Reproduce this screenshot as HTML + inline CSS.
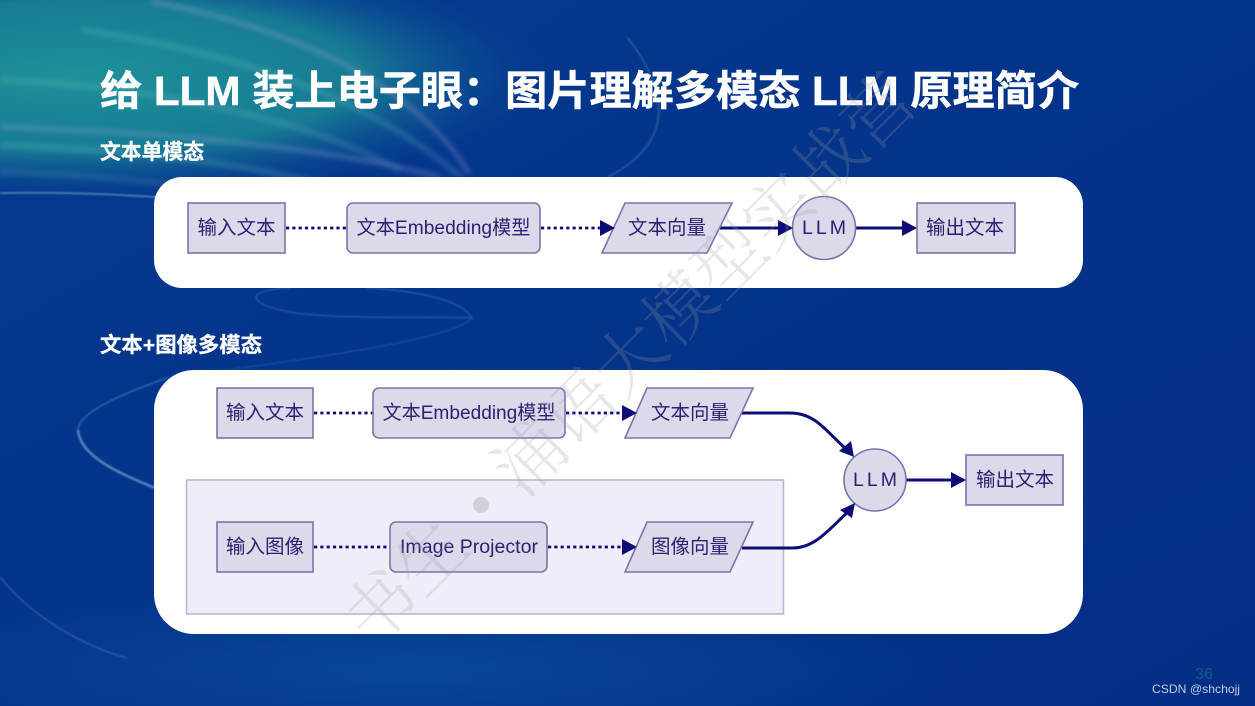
<!DOCTYPE html>
<html lang="zh">
<head>
<meta charset="utf-8">
<title>图片理解多模态 LLM 原理简介</title>
<style>
html,body{margin:0;padding:0;width:1255px;height:706px;overflow:hidden;background:#032f87}
svg{display:block}
.n{font-family:"Liberation Sans","Noto Sans CJK SC",sans-serif;font-size:19.5px;fill:#2a2370;text-anchor:middle;dominant-baseline:central}
.b{fill:#dcd9eb;stroke:#7a74ab;stroke-width:1.6}
.h{font-family:"Liberation Sans","Noto Sans CJK SC",sans-serif;font-weight:700;fill:#fff;stroke:#fff}
.d{stroke:#0a0a78;stroke-width:2.8;stroke-dasharray:3.2 3.1;fill:none}
.s{stroke:#0a0a78;stroke-width:3;fill:none}
.a{fill:#0a0a78}
.w{font-family:"Noto Serif CJK SC","Liberation Serif",serif;font-weight:300;font-size:70px;fill:#999;fill-opacity:.24;text-anchor:middle;dominant-baseline:central}
</style>
</head>
<body>
<svg width="1255" height="706" viewBox="0 0 1255 706" xmlns="http://www.w3.org/2000/svg">
<defs>
<linearGradient id="bg" x1="0" y1="0" x2="1" y2="1">
<stop offset="0" stop-color="#053a90"/><stop offset=".5" stop-color="#04338a"/><stop offset="1" stop-color="#032e86"/>
</linearGradient>
<radialGradient id="teal" gradientUnits="userSpaceOnUse" cx="80" cy="75" r="1" gradientTransform="translate(80 75) scale(470 125) translate(-80 -75)">
<stop offset="0" stop-color="#1d9198"/><stop offset=".6" stop-color="#1a8496" stop-opacity=".88"/><stop offset="1" stop-color="#0a4f96" stop-opacity="0"/>
</radialGradient>
<radialGradient id="low" gradientUnits="userSpaceOnUse" cx="420" cy="670" r="1" gradientTransform="translate(420 670) scale(560 90) translate(-420 -670)">
<stop offset="0" stop-color="#0b55a8" stop-opacity=".6"/><stop offset="1" stop-color="#0b55a8" stop-opacity="0"/>
</radialGradient>
<filter id="bl" x="-20%" y="-20%" width="140%" height="140%"><feGaussianBlur stdDeviation="2.6"/></filter>
<filter id="bl2" x="-20%" y="-20%" width="140%" height="140%"><feGaussianBlur stdDeviation=".7"/></filter>
<filter id="bl3"><feGaussianBlur stdDeviation=".35"/></filter>
</defs>

<rect width="1255" height="706" fill="url(#bg)"/>
<rect width="620" height="260" fill="url(#teal)"/>
<rect y="560" width="1255" height="146" fill="url(#low)"/>

<g fill="none" filter="url(#bl)">
<path d="M151 2C230 15 400 60 469 173" stroke="#a9a8d4" stroke-opacity=".42" stroke-width="3.500"/>
<path d="M82 30C220 50 360 90 461 177" stroke="#7fd0c8" stroke-opacity=".24" stroke-width="5"/>
<path d="M0 80C120 85 290 110 400 170" stroke="#8ed7cd" stroke-opacity=".18" stroke-width="6"/>
<path d="M0 127C100 130 300 140 440 177" stroke="#a7a8d8" stroke-opacity=".45" stroke-width="3"/>
<path d="M0 145C120 150 260 160 400 205" stroke="#7cd0c8" stroke-opacity=".25" stroke-width="5"/>
<path d="M0 172C120 175 230 190 330 210" stroke="#9fd8d8" stroke-opacity=".18" stroke-width="4"/>
</g>
<g fill="none" filter="url(#bl2)">
<path d="M0 193C60 192 110 194 156 197" stroke="#6ab4cc" stroke-opacity=".6" stroke-width="1.800"/>
<path d="M627 37C665 85 680 140 608 177" stroke="#6fa7c4" stroke-opacity=".4" stroke-width="1.300"/>
<path d="M290 288C240 290 250 305 290 312C340 320 430 316 472 318C460 296 400 290 367 288" stroke="#4d90c8" stroke-opacity=".42" stroke-width="1.300"/>
<path d="M472 318C455 340 300 360 167 378" stroke="#4d90c8" stroke-opacity=".3" stroke-width="1.200"/>
<path d="M167 378C110 398 78 415 78 430" stroke="#4d90c8" stroke-opacity=".55" stroke-width="1.500"/>
<path d="M78 430C80 455 115 472 155 488" stroke="#8bb3da" stroke-opacity=".6" stroke-width="2.600"/>
<path d="M0 577C30 615 80 645 127 658" stroke="#8daed6" stroke-opacity=".3" stroke-width="1.400"/>
</g>

<text class="h" x="100" y="105" font-size="41" stroke-width=".5" textLength="979" lengthAdjust="spacingAndGlyphs">给 LLM 装上电子眼：图片理解多模态 LLM 原理简介</text>
<text class="h" x="100" y="159" font-size="21" stroke-width=".3" textLength="104" lengthAdjust="spacingAndGlyphs">文本单模态</text>
<text class="h" x="100" y="352" font-size="21" stroke-width=".3" textLength="162" lengthAdjust="spacingAndGlyphs">文本+图像多模态</text>

<rect x="154" y="177" width="929" height="111" rx="28" fill="#fff"/>
<rect x="154" y="370" width="929" height="264" rx="40" fill="#fff"/>

<g filter="url(#bl3)">
<!-- diagram 1 -->
<path class="d" d="M286 228H347"/>
<path class="d" d="M541 228H600"/>
<path class="s" d="M720 228H780"/>
<path class="s" d="M856 228H903"/>
<rect class="b" x="188" y="203" width="97" height="50"/>
<rect class="b" x="347" y="203" width="193" height="50" rx="6"/>
<path class="b" d="M625 203H732L707 253H602Z"/>
<circle class="b" cx="824" cy="228" r="31.500"/>
<rect class="b" x="917" y="203" width="98" height="50"/>
<path class="a" d="M600 220L615 228L600 236Z"/>
<path class="a" d="M778 220L793 228L778 236Z"/>
<path class="a" d="M902 220L917 228L902 236Z"/>
<text class="n" x="236.500" y="228" textLength="78" lengthAdjust="spacingAndGlyphs">输入文本</text>
<text class="n" x="443.500" y="228" textLength="174" lengthAdjust="spacingAndGlyphs">文本Embedding模型</text>
<text class="n" x="667" y="228" textLength="78" lengthAdjust="spacingAndGlyphs">文本向量</text>
<text class="n" x="824" y="228" font-size="18" textLength="44" lengthAdjust="spacing">LLM</text>
<text class="n" x="965" y="228" textLength="78" lengthAdjust="spacingAndGlyphs">输出文本</text>

<!-- diagram 2 -->
<rect x="186.500" y="480" width="597" height="134" fill="#efedf8" stroke="#b9b5d6" stroke-width="1.600"/>
<path class="d" d="M314 413H373"/>
<path class="d" d="M566 413H622"/>
<path class="d" d="M314 547H390"/>
<path class="d" d="M548 547H623"/>
<path class="s" d="M741 413H790C815 413 825 430 846 449"/>
<path class="s" d="M742 548H793C815 548 828 530 848 512"/>
<path class="s" d="M906 480H953"/>
<rect class="b" x="217" y="388" width="96" height="50"/>
<rect class="b" x="373" y="388" width="192" height="50" rx="6"/>
<path class="b" d="M647 388H753L730 438H625Z"/>
<rect class="b" x="217" y="522" width="96" height="50"/>
<rect class="b" x="390" y="522" width="157" height="50" rx="6"/>
<path class="b" d="M647 522H753L730 572H625Z"/>
<circle class="b" cx="875" cy="480" r="31"/>
<rect class="b" x="966" y="455" width="97" height="50"/>
<path class="a" d="M622 405L637 413L622 421Z"/>
<path class="a" d="M622 539L637 547L622 555Z"/>
<path class="a" d="M951 472L966 480L951 488Z"/>
<path class="a" d="M854 457L839 451L851 441Z"/>
<path class="a" d="M855 503L840 510L852 518Z"/>
<text class="n" x="265" y="413" textLength="78" lengthAdjust="spacingAndGlyphs">输入文本</text>
<text class="n" x="469" y="413" textLength="173" lengthAdjust="spacingAndGlyphs">文本Embedding模型</text>
<text class="n" x="690" y="413" textLength="78" lengthAdjust="spacingAndGlyphs">文本向量</text>
<text class="n" x="265" y="547" textLength="78" lengthAdjust="spacingAndGlyphs">输入图像</text>
<text class="n" x="469" y="547" textLength="138" lengthAdjust="spacingAndGlyphs">Image Projector</text>
<text class="n" x="690" y="547" textLength="78" lengthAdjust="spacingAndGlyphs">图像向量</text>
<text class="n" x="875" y="480" font-size="18" textLength="44" lengthAdjust="spacing">LLM</text>
<text class="n" x="1015" y="480" textLength="78" lengthAdjust="spacingAndGlyphs">输出文本</text>
</g>

<!-- watermark -->
<text class="w" transform="translate(377 603) rotate(-45)">书</text>
<text class="w" transform="translate(427 553) rotate(-45)">生</text>
<circle cx="481" cy="505" r="8" fill="#999" fill-opacity=".35"/>
<text class="w" transform="translate(527 454) rotate(-45)">浦</text>
<text class="w" transform="translate(576 405) rotate(-45)">语</text>
<text class="w" transform="translate(626 355) rotate(-45)">大</text>
<text class="w" transform="translate(676 306) rotate(-45)">模</text>
<text class="w" transform="translate(726 256) rotate(-45)">型</text>
<text class="w" transform="translate(775 207) rotate(-45)">实</text>
<text class="w" transform="translate(825 157) rotate(-45)">战</text>
<text class="w" transform="translate(875 108) rotate(-45)">营</text>

<text x="1204" y="679" font-family="Liberation Sans, sans-serif" font-size="16" fill="#0a5f8a" text-anchor="middle">36</text>
<text x="1152" y="693" font-family="Liberation Sans, sans-serif" font-size="12" fill="#c3cde0" textLength="88" lengthAdjust="spacingAndGlyphs">CSDN @shchojj</text>
</svg>
</body>
</html>
